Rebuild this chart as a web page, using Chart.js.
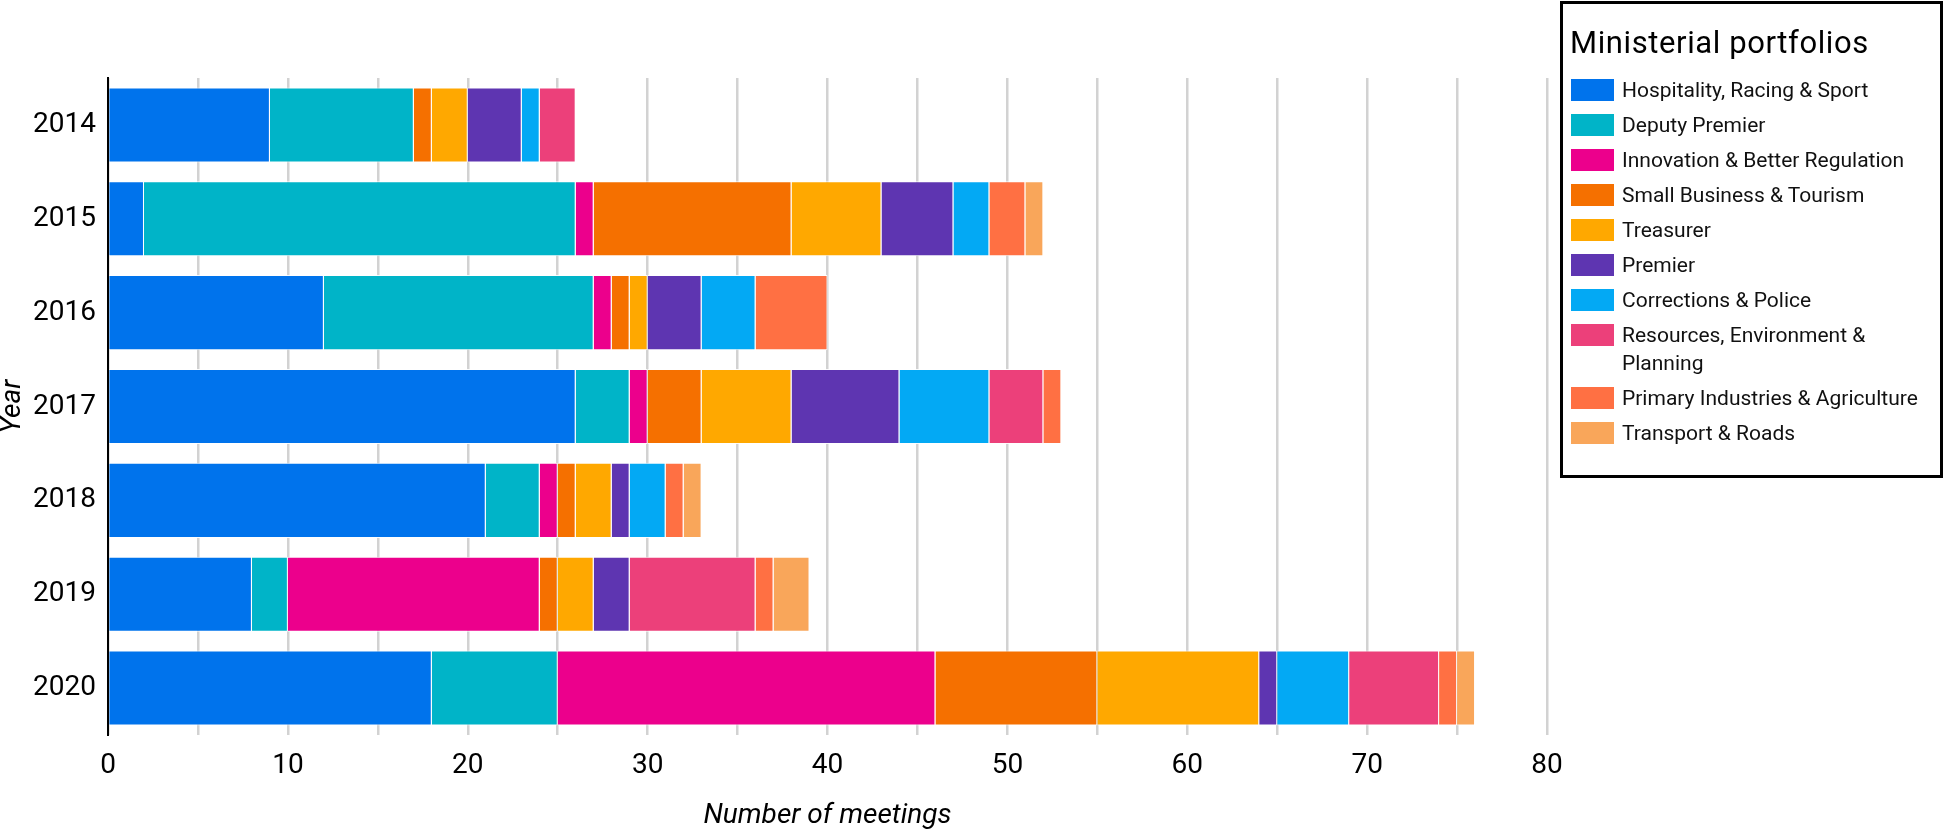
<!DOCTYPE html>
<html><head><meta charset="utf-8">
<script src="https://cdn.jsdelivr.net/npm/chart.js@4.4.1/dist/chart.umd.min.js"></script>
<style>
html,body{margin:0;padding:0;background:#fff;}
#wrap{position:relative;width:1945px;height:832px;overflow:hidden;}
#chart{position:absolute;left:0;top:0;}
#legend{position:absolute;left:1560px;top:1px;width:377px;height:471px;border:3px solid #000;font-family:Roboto,sans-serif;color:#111;}
#legend .title{position:absolute;left:7px;top:21px;font-size:31px;line-height:36px;letter-spacing:0.6px;white-space:nowrap;color:#000;}
#legend .items{position:absolute;left:8px;top:72px;}
#legend .item{display:flex;align-items:flex-start;margin-bottom:7px;}
#legend .sw{width:43px;height:22px;margin-top:3px;margin-right:8px;flex:none;}
#legend .txt{font-size:21px;line-height:28px;width:312px;}
</style>
</head><body>
<div id="wrap">
<canvas id="chart" width="1945" height="832"></canvas>
<div id="legend"></div>
</div>
<script>
const years = ['2014','2015','2016','2017','2018','2019','2020'];
const portfolios = ['Hospitality, Racing & Sport','Deputy Premier','Innovation & Better Regulation','Small Business & Tourism','Treasurer','Premier','Corrections & Police','Resources, Environment & Planning','Primary Industries & Agriculture','Transport & Roads'];
const colors = ['#0073EC','#00B4C8','#EC008C','#F57000','#FFA800','#5E35B1','#03A9F4','#EC407A','#FF7043','#F9A65A'];
const hospitality = [9,2,12,26,21,8,18];
const deputyPremier = [8,24,15,3,3,2,7];
const innovation = [0,1,1,1,1,14,21];
const smallBusiness = [1,11,1,3,1,1,9];
const treasurer = [2,5,1,5,2,2,9];
const premier = [3,4,3,6,1,2,1];
const corrections = [1,2,3,5,2,0,4];
const resources = [2,0,0,3,0,7,5];
const primaryInd = [0,2,4,1,1,1,1];
const transport = [0,1,0,0,1,2,1];
const xTicks = [0,10,20,30,40,50,60,70,80];
const series = [hospitality,deputyPremier,innovation,smallBusiness,treasurer,premier,corrections,resources,primaryInd,transport];

const datasets = series.map((arr,i)=>({
  label: portfolios[i],
  data: arr.map(v => v === 0 ? null : v),
  backgroundColor: colors[i],
  borderColor: 'rgba(255,255,255,0.9)',
  borderWidth: 1,
  barPercentage: 0.8,
  categoryPercentage: 1.0
}));

const font = 'Roboto';
new Chart(document.getElementById('chart'), {
  type: 'bar',
  data: { labels: years, datasets },
  options: {
    indexAxis: 'y',
    responsive: false,
    animation: false,
    layout: { padding: { left: 0, top: 78, right: 398, bottom: 0 } },
    plugins: { legend: { display: false }, tooltip: { enabled: false } },
    scales: {
      x: {
        stacked: true,
        min: 0, max: 80,
        afterFit: s => { s.height = 97; },
        ticks: {
          stepSize: 5,
          autoSkip: false,
          maxRotation: 0,
          padding: 14,
          color: '#000',
          font: { family: font, size: 28 },
          callback: v => xTicks.includes(v) ? String(v) : ''
        },
        grid: { color: '#d2d2d2', lineWidth: 2.5, drawTicks: false },
        border: { display: false },
        title: { display: true, text: 'Number of meetings', color: '#000', padding: { top: 0, bottom: 2 },
          font: { family: font, size: 28, style: 'italic', lineHeight: 1 } }
      },
      y: {
        stacked: true,
        afterFit: s => { s.width = 108; },
        ticks: { color: '#000', padding: 12, font: { family: font, size: 28 } },
        grid: { display: false, drawTicks: false },
        border: { display: true, color: '#000', width: 2 },
        title: { display: true, text: 'Year', color: '#000', padding: { top: 0, bottom: 0 },
          font: { family: font, size: 28, style: 'italic', lineHeight: 0.9 } }
      }
    }
  }
});

const lg = document.getElementById('legend');
const t = document.createElement('div'); t.className = 'title'; t.textContent = 'Ministerial portfolios'; lg.appendChild(t);
const items = document.createElement('div'); items.className = 'items';
portfolios.forEach((p,i)=>{
  const it = document.createElement('div'); it.className = 'item';
  const sw = document.createElement('div'); sw.className = 'sw'; sw.style.background = colors[i];
  const tx = document.createElement('div'); tx.className = 'txt'; tx.textContent = p;
  it.appendChild(sw); it.appendChild(tx); items.appendChild(it);
});
lg.appendChild(items);
</script>
</body></html>
